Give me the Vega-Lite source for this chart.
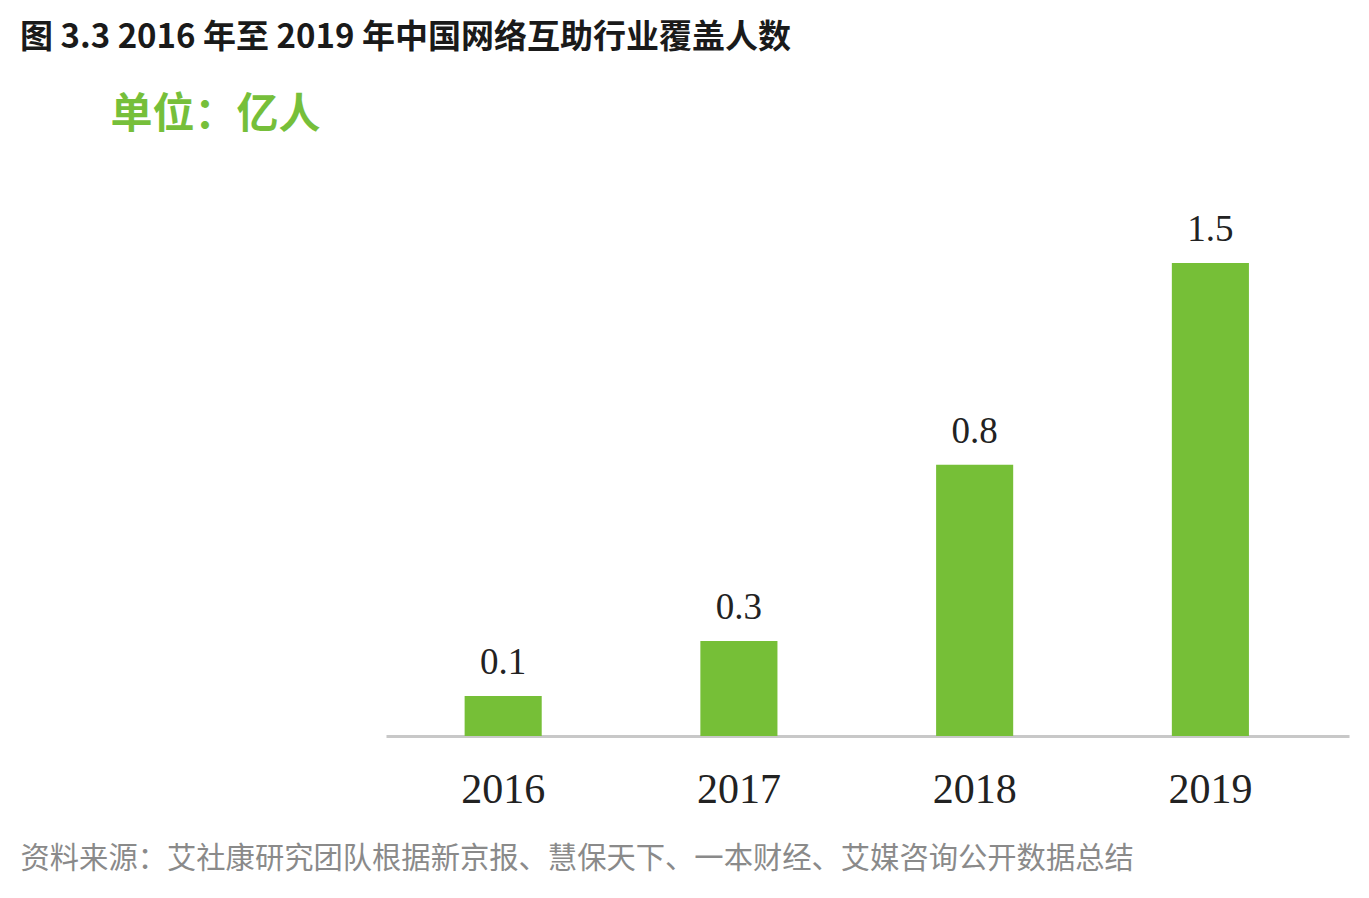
{
  "$schema": "https://vega.github.io/schema/vega-lite/v6.json",
  "width": 963,
  "height": 473,
  "autosize": {"type": "none"},
  "padding": {"left": 386, "top": 263, "right": 20, "bottom": 162},
  "background": "white",
  "title": {
    "text": "图 3.3 2016 年至 2019 年中国网络互助行业覆盖人数",
    "anchor": "start",
    "frame": "group",
    "dx": -366,
    "dy": 2,
    "font": "Noto Sans CJK SC",
    "fontWeight": "bold",
    "fontSize": 33,
    "color": "#1a1a1a",
    "orient": "top",
    "offset": 40
  },
  "data": {
    "values": [
      {"year": "2016", "value": 0.127, "label": "0.1"},
      {"year": "2017", "value": 0.301, "label": "0.3"},
      {"year": "2018", "value": 0.86, "label": "0.8"},
      {"year": "2019", "value": 1.5, "label": "1.5"}
    ]
  },
  "encoding": {
    "x": {
      "field": "year",
      "type": "nominal",
      "scale": {"paddingInner": 0.673, "paddingOuter": 0.379, "align": 0.44},
      "axis": {
        "title": "资料来源：艾社康研究团队根据新京报、慧保天下、一本财经、艾媒咨询公开数据总结",
        "titleFont": "Noto Sans CJK SC",
        "titleFontWeight": "normal",
        "titleFontSize": 29.3,
        "titleColor": "#8a8a8a",
        "titleAlign": "left",
        "titleBaseline": "alphabetic",
        "titleAnchor": "start",
        "titleX": -366,
        "titleY": 131,
        "labelAngle": 0,
        "labelFont": "Liberation Serif",
        "labelFontSize": 42,
        "labelColor": "#222222",
        "labelBaseline": "alphabetic",
        "labelPadding": 66,
        "ticks": false,
        "domainColor": "#c8c8c8",
        "domainWidth": 3,
        "grid": false
      }
    },
    "y": {
      "field": "value",
      "type": "quantitative",
      "scale": {"domain": [0, 1.5], "nice": false},
      "axis": {
        "title": "单位：亿人",
        "titleFont": "Noto Sans CJK SC",
        "titleFontWeight": "bold",
        "titleFontSize": 42,
        "titleColor": "#76bf3a",
        "titleAngle": 0,
        "titleAlign": "left",
        "titleBaseline": "alphabetic",
        "titleX": -276,
        "titleY": -136,
        "labels": false,
        "ticks": false,
        "domain": false,
        "grid": false
      }
    }
  },
  "layer": [
    {"mark": {"type": "bar", "color": "#76bf37"}},
    {
      "mark": {"type": "text", "font": "Liberation Serif", "fontSize": 37, "color": "#222222", "baseline": "alphabetic", "dy": -22},
      "encoding": {"text": {"field": "label"}}
    }
  ],
  "config": {"view": {"stroke": null}}
}
